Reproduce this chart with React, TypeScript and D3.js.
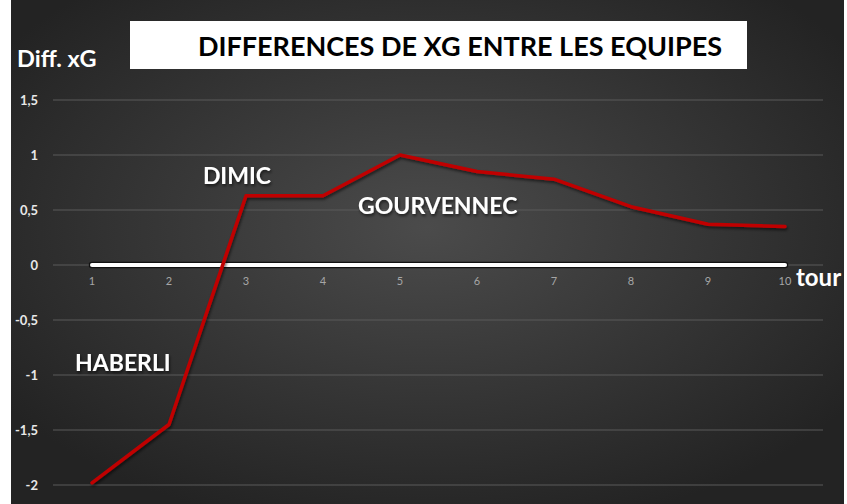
import { useEffect, useRef } from "react";
import * as d3 from "d3";

const tours = [1, 2, 3, 4, 5, 6, 7, 8, 9, 10];
const diffXG = [-1.98, -1.45, 0.63, 0.63, 1.0, 0.85, 0.78, 0.53, 0.37, 0.35];
const yTicks = [1.5, 1, 0.5, 0, -0.5, -1, -1.5, -2];
const coachNames = ["HABERLI", "DIMIC", "GOURVENNEC"];
const coachTour = [0.78, 2.44, 4.455];
const coachValue = [-0.964, 0.736, 0.464];

const W = 847;
const H = 504;
const FONT = "Lato, 'Open Sans', sans-serif";

export default function App() {
  const svgRef = useRef<SVGSVGElement>(null);

  useEffect(() => {
    if (!svgRef.current) return;
    const svg = d3.select(svgRef.current);
    svg.selectAll("*").remove();

    const x = d3.scaleLinear().domain([1, 10]).range([92, 785]);
    const y = d3.scaleLinear().domain([0, 1]).range([265, 155]);

    // background
    const defs = svg.append("defs");
    const grad = defs
      .append("radialGradient")
      .attr("id", "bg")
      .attr("cx", "50%")
      .attr("cy", "45%")
      .attr("r", "62%");
    grad.append("stop").attr("offset", "0%").attr("stop-color", "#4b4b4b");
    grad.append("stop").attr("offset", "100%").attr("stop-color", "#232323");

    const shadow = defs.append("filter").attr("id", "sh").attr("x", "-10%").attr("y", "-10%").attr("width", "120%").attr("height", "120%");
    shadow.append("feDropShadow").attr("dx", 1).attr("dy", 2).attr("stdDeviation", 1.5).attr("flood-color", "#000").attr("flood-opacity", 0.6);

    svg.append("rect").attr("width", W).attr("height", H).attr("fill", "#fff");
    svg.append("rect").attr("x", 11).attr("y", 0).attr("width", 833).attr("height", H).attr("fill", "url(#bg)");

    // gridlines
    svg
      .append("g")
      .selectAll("line")
      .data(yTicks)
      .join("line")
      .attr("x1", 53)
      .attr("x2", 823)
      .attr("y1", (d) => y(d))
      .attr("y2", (d) => y(d))
      .attr("stroke", "#5a5a5a")
      .attr("stroke-width", 1.2);

    // y tick labels
    svg
      .append("g")
      .selectAll("text")
      .data(yTicks)
      .join("text")
      .attr("x", 38)
      .attr("y", (d) => y(d) + 4.5)
      .attr("text-anchor", "end")
      .attr("fill", "#e8e8e8")
      .attr("font-family", FONT)
      .attr("font-weight", "bold")
      .attr("font-size", 13)
      .text((d) => String(d).replace(".", ","));

    // zero line
    svg
      .append("line")
      .attr("x1", x(1))
      .attr("x2", x(10))
      .attr("y1", y(0))
      .attr("y2", y(0))
      .attr("stroke", "#111")
      .attr("stroke-width", 6.5)
      .attr("stroke-linecap", "round");
    svg
      .append("line")
      .attr("x1", x(1))
      .attr("x2", x(10))
      .attr("y1", y(0))
      .attr("y2", y(0))
      .attr("stroke", "#fff")
      .attr("stroke-width", 4)
      .attr("stroke-linecap", "round");

    // x tick labels
    svg
      .append("g")
      .selectAll("text")
      .data(tours)
      .join("text")
      .attr("x", (d) => x(d))
      .attr("y", y(0) + 20)
      .attr("text-anchor", "middle")
      .attr("fill", "#a6a6a6")
      .attr("font-family", FONT)
      .attr("font-size", 11)
      .text((d) => d);

    svg
      .append("text")
      .attr("x", 796)
      .attr("y", 286)
      .attr("fill", "#fff")
      .attr("font-family", FONT)
      .attr("font-weight", "bold")
      .attr("font-size", 24)
      .text("tour");

    // data line
    const line = d3
      .line<number>()
      .x((_, i) => x(tours[i]))
      .y((d) => y(d));
    svg
      .append("path")
      .datum(diffXG)
      .attr("d", line)
      .attr("fill", "none")
      .attr("stroke", "#c00000")
      .attr("stroke-width", 3.5)
      .attr("stroke-linejoin", "round")
      .attr("stroke-linecap", "round")
      .attr("filter", "url(#sh)");

    // coach labels
    svg
      .append("g")
      .selectAll("text")
      .data(coachNames)
      .join("text")
      .attr("x", (_, i) => x(coachTour[i]))
      .attr("y", (_, i) => y(coachValue[i]))
      .attr("fill", "#fff")
      .attr("font-family", FONT)
      .attr("font-weight", "bold")
      .attr("font-size", 23)
      .attr("filter", "url(#sh)")
      .text((d) => d);

    // axis title
    svg
      .append("text")
      .attr("x", 17)
      .attr("y", 67)
      .attr("fill", "#fff")
      .attr("font-family", FONT)
      .attr("font-weight", "bold")
      .attr("font-size", 23.5)
      .text("Diff. xG");

    // title box
    svg.append("rect").attr("x", 130).attr("y", 21).attr("width", 617).attr("height", 48).attr("fill", "#fff");
    svg
      .append("text")
      .attr("x", 460)
      .attr("y", 56)
      .attr("text-anchor", "middle")
      .attr("fill", "#000")
      .attr("font-family", FONT)
      .attr("font-weight", "bold")
      .attr("font-size", 27)
      .text("DIFFERENCES DE XG ENTRE LES EQUIPES");
  }, []);

  return (
    <div style={{ position: "fixed", left: 0, top: 0 }}>
      <svg ref={svgRef} width={W} height={H} style={{ display: "block" }} />
    </div>
  );
}
